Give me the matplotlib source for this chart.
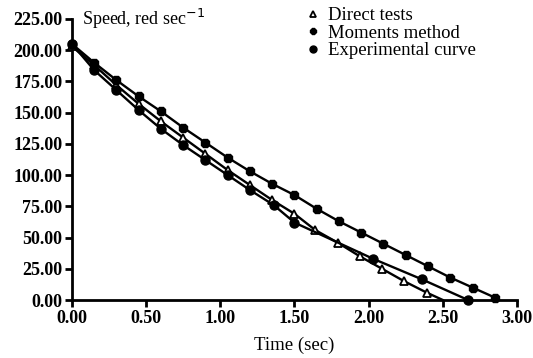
import numpy as np
import matplotlib.pyplot as plt

# time axis (sec) and speeds (rad/sec)
t_direct = [0.0, 0.15, 0.30, 0.45, 0.60, 0.75, 0.90, 1.05, 1.20, 1.35, 1.50,
            1.64, 1.79, 1.94, 2.09, 2.24, 2.39, 2.50]
v_direct = [203, 188, 172, 157, 143, 130, 117, 104, 92, 80, 69,
            56, 46, 35, 25, 15, 6, 0]

t_moments = [0.0, 0.15, 0.30, 0.45, 0.60, 0.75, 0.90, 1.05, 1.20, 1.35,
             1.50, 1.65, 1.80, 1.95, 2.10, 2.25, 2.40, 2.55, 2.70, 2.85]
v_moments = [205, 190, 176, 163, 151, 138, 126, 114, 103, 93,
             84, 73, 63, 54, 45, 36, 27, 18, 10, 2]

t_exp = [0.0, 0.15, 0.30, 0.45, 0.60, 0.75, 0.90, 1.05, 1.20, 1.36,
         1.50, 2.03, 2.36, 2.67]
v_exp = [205, 184, 168, 152, 137, 124, 112, 100, 88, 76,
         62, 33, 16.5, 0]

plt.rcParams['font.family'] = ['Liberation Serif', 'DejaVu Serif']

fig = plt.figure(figsize=(5.33, 3.58), dpi=100)
ax = fig.add_axes([0.135, 0.162, 0.835, 0.785])

ax.plot(t_direct, v_direct, color='black', lw=1.7, marker='^', ms=6,
        mfc='white', mec='black', mew=1.3, markevery=list(range(len(t_direct) - 1)),
        label='Direct tests', clip_on=False, zorder=3)
ax.plot(t_moments, v_moments, color='black', lw=1.7, marker='8', ms=6,
        label='Moments method', clip_on=False, zorder=3)
ax.plot(t_exp, v_exp, color='black', lw=1.7, marker='o', ms=6.5,
        label='Experimental curve', clip_on=False, zorder=3)

ax.set_xlim(0, 3)
ax.set_ylim(0, 225)
ax.set_xticks(np.arange(0, 3.01, 0.5))
ax.set_yticks(np.arange(0, 226, 25))
ax.xaxis.set_major_formatter(plt.FormatStrFormatter('%.2f'))
ax.yaxis.set_major_formatter(plt.FormatStrFormatter('%.2f'))

for s in ['top', 'right']:
    ax.spines[s].set_visible(False)
for s in ['left', 'bottom']:
    ax.spines[s].set_linewidth(2)
ax.tick_params(width=2, length=5, labelsize=13, pad=2)
for lab in ax.get_xticklabels() + ax.get_yticklabels():
    lab.set_fontweight('bold')

ax.set_xlabel('Time (sec)', fontsize=13.5, labelpad=7)
ax.text(0.022, 1.0, r'Speed, red sec$^{-1}$', transform=ax.transAxes,
        fontsize=13, va='center', ha='left')

leg = ax.legend(loc='upper left', bbox_to_anchor=(0.576, 0.98),
                bbox_transform=fig.transFigure, frameon=False,
                fontsize=13.5, handlelength=0.6, handletextpad=0.5,
                labelspacing=0.02, borderaxespad=0, borderpad=0)
for h in leg.legend_handles:
    h.set_linestyle('none')
    h.set_markersize(5)

fig.savefig('out.png', dpi=100)
